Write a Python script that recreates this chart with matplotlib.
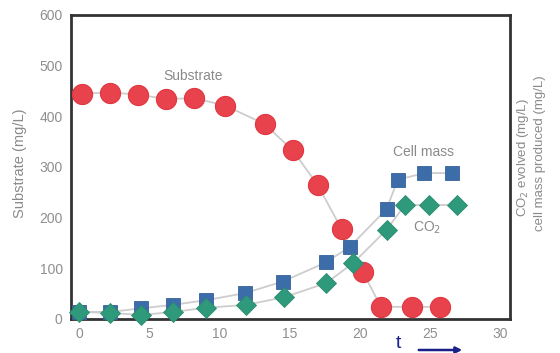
import matplotlib
matplotlib.use("Agg")
import matplotlib.pyplot as plt

# ---- data ----
substrate_t = [0.2, 2.2, 4.2, 6.2, 8.2, 10.4, 13.2, 15.2, 17.0, 18.7, 20.2, 21.5, 23.7, 25.7]
substrate = [445, 447, 443, 434, 436, 421, 385, 333, 264, 177, 93, 24, 24, 24]

cell_t = [0.0, 2.2, 4.4, 6.7, 9.0, 11.8, 14.5, 17.6, 19.3, 21.9, 22.7, 24.6, 26.6]
cell_mass = [14, 14, 21, 28, 37, 51, 74, 112, 143, 217, 275, 288, 288]

co2_t = [0.0, 2.2, 4.4, 6.7, 9.0, 11.9, 14.6, 17.6, 19.5, 21.9, 23.2, 24.9, 26.9]
co2 = [14, 12, 8, 14, 22, 28, 43, 71, 110, 176, 225, 225, 225]

x_ticks = [0, 5, 10, 15, 20, 25, 30]
y_ticks = [0, 100, 200, 300, 400, 500, 600]

plt.rcParams['font.family'] = ['Liberation Sans', 'DejaVu Sans']

W, H = 560, 353
fig = plt.figure(figsize=(W / 100, H / 100), dpi=100)
ax = fig.add_axes([71 / W, 1 - 319 / H, (510 - 71) / W, (319 - 15) / H])

line_c = '#cdcdcd'
ax.plot(substrate_t, substrate, color=line_c, lw=1.3, zorder=1)
ax.plot(cell_t, cell_mass, color=line_c, lw=1.3, zorder=1)
ax.plot(co2_t, co2, color=line_c, lw=1.3, zorder=1)

ax.plot(substrate_t, substrate, 'o', color='#e8434d', ms=14.5, mec='#e0363f', mew=0.8,
        zorder=3, clip_on=False)
ax.plot(cell_t, cell_mass, 's', color='#3d6da8', ms=10.5, mec='#34629a', mew=0.6,
        zorder=4, clip_on=False)
ax.plot(co2_t, co2, 'D', color='#2f9a7b', ms=10.5, mec='#2a8c70', mew=0.6,
        zorder=5, clip_on=False)

ax.set_xlim(-0.6, 30.7)
ax.set_ylim(0, 600)
ax.set_xticks(x_ticks)
ax.set_yticks(y_ticks)
ax.tick_params(length=0, labelsize=10, labelcolor='#8f8f8f', pad=6)
for s in ax.spines.values():
    s.set_color('#333333')
    s.set_linewidth(2.0)

txt_c = '#8a8a8a'
ax.text(8.1, 480, 'Substrate', color=txt_c, fontsize=10, ha='center', va='center')
ax.text(24.5, 330, 'Cell mass', color=txt_c, fontsize=10, ha='center', va='center')
ax.text(24.8, 180, 'CO$_2$', color=txt_c, fontsize=10, ha='center', va='center')

fig.text(20 / W, 1 - 163 / H, 'Substrate (mg/L)', rotation=90, color=txt_c,
         fontsize=10.5, ha='center', va='center')
fig.text(523 / W, 1 - 158 / H, 'CO$_2$ evolved (mg/L)', rotation=90, color=txt_c,
         fontsize=9.5, ha='center', va='center')
fig.text(540 / W, 1 - 153 / H, 'cell mass produced (mg/L)', rotation=90, color=txt_c,
         fontsize=9.5, ha='center', va='center')

navy = '#1a1f8a'
fig.text(398 / W, 1 - 344 / H, 't', color=navy, fontsize=14, ha='center', va='center')
fig.patches.append(matplotlib.patches.FancyArrowPatch(
    (416 / W, 1 - 350 / H), (465 / W, 1 - 350 / H), transform=fig.transFigure,
    arrowstyle='-|>', mutation_scale=9, color=navy, lw=1.8))

fig.savefig('out.png', dpi=100)
